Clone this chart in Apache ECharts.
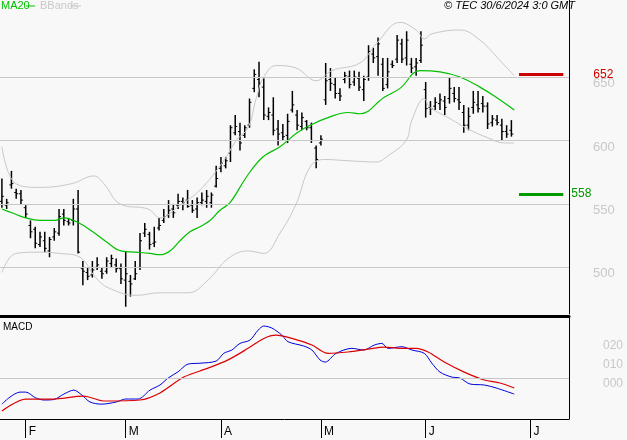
<!DOCTYPE html>
<html><head><meta charset="utf-8">
<script src="https://cdn.jsdelivr.net/npm/echarts@6/dist/echarts.min.js"></script>
<style>html,body{margin:0;padding:0;background:#f8f8f8}#c{width:627px;height:440px}</style>
</head><body><div id="c"></div>
<script>
const high=[570,554,576,562,561,549,537,532,528,528,524,531,546,546,539,554,561,505,500,505,508,500,508,510,507,503,513,494,505,527,535,528,532,539,546,553,550,558,555,561,553,555,559,561,559,580,587,587,612,620,614,612,633,656,662,649,626,634,616,613,621,639,624,622,616,614,596,604,661,657,650,641,654,655,655,654,651,675,673,681,665,665,663,683,680,686,665,665,686,646,631,634,637,635,650,642,642,628,626,639,639,635,630,620,620,617,612,616];
const low=[547,546,562,554,550,539,523,515,516,512,508,521,525,533,533,533,511,486,490,492,498,491,495,500,496,487,469,477,490,498,524,514,516,529,535,539,539,546,545,547,543,539,549,547,547,563,575,578,583,604,592,602,610,638,634,616,616,604,596,600,598,622,608,608,608,598,578,596,628,639,633,631,645,641,643,639,631,647,661,651,639,641,657,661,661,659,653,651,661,618,620,624,624,620,629,630,624,606,608,621,622,622,609,611,612,600,602,603];
const open=[552,549,565,559,558,547,533,530,518,521,513,524,527,542,536,537,546,499,496,494,500,497,497,503,502,499,490,489,491,500,527,526,519,531,537,541,546,549,552,553,549,546,551,552,551,564,578,580,590,606,607,604,612,641,648,642,619,620,609,606,604,624,620,611,615,610,594,598,632,648,644,637,648,650,646,649,640,650,668,666,660,644,660,664,676,665,660,658,663,640,626,627,629,631,633,637,632,622,612,626,628,629,627,614,616,612,607,608];
const close=[556,551,566,558,553,542,528,519,524,515,522,528,540,537,535,546,512,497,493,498,502,495,505,507,499,491,495,487,495,521,530,518,520,533,540,545,543,552,551,548,545,551,553,556,557,570,582,584,610,611,598,610,630,652,645,620,622,608,605,603,615,628,612,618,610,600,585,601,647,645,637,635,651,644,650,642,648,670,665,676,641,654,659,679,664,679,657,661,675,625,625,630,632,626,641,633,630,612,619,630,625,627,613,617,614,607,605,605];
const ma20=[[0,546],[2.1,543],[5,539],[8,537],[11.1,537],[13,539],[16.2,535],[19.1,528],[22,520],[25,513],[28.2,512],[31.1,511],[33.2,510],[35.3,513],[37.4,521],[39.5,528],[41.6,532],[43.7,537],[45.8,545],[47.9,551],[51.5,572],[54.8,587],[58.4,595],[62,606],[65.3,613],[68.5,618],[72.7,622],[75.2,621],[80.3,634],[83.6,641],[87.8,655],[92,654],[96.2,650],[100.4,642],[103.8,634],[107.6,624]];
const bbUp=[[0,595],[2.9,566],[8,563],[14.7,566],[19.3,572],[21.4,566],[24.8,550],[30.7,546],[33.2,539],[37.4,549],[41.6,561],[46.6,584],[49.2,600],[51.7,610],[53.4,633],[55,650],[57.6,659],[61.8,657],[66,647],[69.3,655],[75.2,661],[78.6,676],[83.6,693],[87,687],[88.7,680],[90.3,684],[96.2,687],[100.4,679],[104.6,663],[107.6,651]];
const bbLow=[[0,496],[2.9,511],[8,512],[12.2,511],[16.4,508],[19.7,492],[22.3,484],[28.2,478],[33.2,480],[39.1,480],[43.3,490],[47.5,507],[51.7,513],[55,511],[58.4,527],[61.8,550],[64.7,579],[67.6,585],[72.7,584],[78.6,583],[81.1,588],[84.9,600],[86.1,616],[88.7,633],[89.9,626],[93.7,618],[97.9,609],[102.1,602],[105.5,598],[107.6,598]];
const macd=[[0,-15.8],[1.7,-11.5],[3.8,-8.5],[5,-8.5],[7.1,-12],[8.8,-13.3],[10.9,-13],[13,-9.7],[15.1,-7.3],[16.8,-10.3],[18.5,-14.5],[21,-15.8],[24,-14.5],[26,-12.7],[28.6,-12.7],[31.1,-7.3],[33.2,-4.2],[34.9,0],[37,3.8],[39.1,8.5],[41.6,9],[45,10.3],[46.6,15],[48.3,17],[50,21],[52.1,23],[53.8,29],[55,31.5],[56.7,30.3],[58.8,26],[60.1,22],[63.4,19.4],[65.1,17],[66.8,11],[67.9,9.7],[70.2,15],[73.5,18],[76,17],[78.2,20],[79.8,21],[81.1,18],[84,19],[86.1,17],[88.7,15],[90.3,9],[92,3.6],[94.5,0.6],[96.2,0],[98.3,-3.6],[101.3,-4.2],[103.8,-6],[107.6,-9.7]];
const signal=[[0,-20],[5,-12.7],[10.5,-12.7],[17.2,-10.9],[21.4,-13.9],[29,-13.3],[33.2,-9],[38.2,0.6],[43.3,6],[47.5,11],[51.7,18],[55,24],[57.6,26],[60.9,24],[65.1,20],[68.5,15],[72.7,15.8],[76.9,17.5],[80.3,18.8],[83.6,18],[87,18],[89.5,15.8],[92.9,9.7],[97.1,3.6],[101.3,-1.2],[104.6,-3],[107.6,-6]];
const monthTicks=[5,26,46,67,89,111];
const monthLabels=['F','M','A','M','J','J'];
const priceTicks=[500,550,600,650];
const macdTicks=[0,11.5,23];
const macdLabels=['000','010','020'];
const support=558, resistance=652;

const ohlc=high.map((h,i)=>[i,open[i],high[i],low[i],close[i]]);
const chart=echarts.init(document.getElementById('c'));
const gray='#c8c8c8';
chart.setOption({
  backgroundColor:'#f8f8f8',animation:false,
  textStyle:{fontFamily:'Liberation Sans, Arial'},
  grid:[{left:0,top:0,width:569,height:314},{left:0,top:316,width:569,height:103}],
  xAxis:[
    {type:'value',gridIndex:0,min:-0.4,max:119.1,show:false},
    {type:'value',gridIndex:1,position:'bottom',min:-0.4,max:119.1,splitLine:{show:false},
      axisLine:{onZero:false,lineStyle:{color:'#000'}},
      axisTick:{customValues:monthTicks,length:19,inside:false,lineStyle:{color:'#000'}},
      axisLabel:{customValues:monthTicks,formatter:v=>monthLabels[monthTicks.indexOf(v)],align:'left',padding:[0,0,0,3],margin:7,color:'#000',fontSize:12}},
    {type:'value',gridIndex:1,position:'top',min:-0.4,max:119.1,axisLine:{show:true,onZero:false,lineStyle:{color:'#000',width:3}},axisTick:{show:false},axisLabel:{show:false},splitLine:{show:false}}
  ],
  yAxis:[
    {type:'value',gridIndex:0,position:'right',min:463.3,max:710.6,splitLine:{show:false},
      axisLine:{show:true,onZero:false,lineStyle:{color:'#000'}},axisTick:{show:false},
      axisLabel:{customValues:priceTicks,align:'left',margin:24,verticalAlign:'top',color:gray,fontSize:13}},
    {type:'value',gridIndex:1,position:'right',min:-24.8,max:37.6,splitLine:{show:false},
      axisLine:{show:true,onZero:false,lineStyle:{color:'#000'}},axisTick:{show:false},
      axisLabel:{customValues:macdTicks,formatter:v=>macdLabels[macdTicks.indexOf(v)],align:'left',margin:34,verticalAlign:'top',color:gray,fontSize:12}}
  ],
  series:[
    {type:'line',xAxisIndex:0,yAxisIndex:0,data:bbUp,smooth:0.4,symbol:'none',lineStyle:{color:gray,width:1},
      markLine:{silent:true,symbol:'none',label:{show:false},lineStyle:{color:gray,width:1,type:'solid'},data:priceTicks.map(v=>({yAxis:v}))}},
    {type:'line',xAxisIndex:0,yAxisIndex:0,data:bbLow,smooth:0.4,symbol:'none',lineStyle:{color:gray,width:1}},
    {type:'line',xAxisIndex:0,yAxisIndex:0,data:ma20,smooth:0.4,symbol:'none',lineStyle:{color:'#00c000',width:1.2},
      markLine:{silent:true,symbol:'none',data:[
        [{coord:[108.6,resistance],lineStyle:{color:'#cc0000',width:3,type:'solid'},label:{show:true,position:'end',formatter:String(resistance),color:'#cc0000',fontSize:12,distance:30}},{coord:[117.9,resistance]}],
        [{coord:[108.6,support],lineStyle:{color:'#009900',width:3,type:'solid'},label:{show:true,position:'end',formatter:String(support),color:'#009900',fontSize:12,distance:8}},{coord:[117.9,support]}]
      ]}},
    {type:'custom',xAxisIndex:0,yAxisIndex:0,data:ohlc,encode:{x:0,y:[1,2,3,4]},
      renderItem:(params,api)=>{
        const x=api.value(0);
        const o=api.coord([x,api.value(1)]),h=api.coord([x,api.value(2)]),l=api.coord([x,api.value(3)]),c=api.coord([x,api.value(4)]);
        const st={stroke:'#000',lineWidth:1.5};
        return {type:'group',children:[
          {type:'line',shape:{x1:h[0],y1:h[1],x2:l[0],y2:l[1]},style:st},
          {type:'line',shape:{x1:o[0]-2,y1:o[1],x2:o[0],y2:o[1]},style:{stroke:'#000',lineWidth:1}},
          {type:'line',shape:{x1:c[0],y1:c[1],x2:c[0]+2,y2:c[1]},style:{stroke:'#000',lineWidth:1}}
        ]};
      }},
    {type:'line',xAxisIndex:1,yAxisIndex:1,data:macd,smooth:0.3,symbol:'none',lineStyle:{color:'#0000dd',width:1},
      markLine:{silent:true,symbol:'none',label:{show:false},lineStyle:{color:gray,width:1,type:'solid'},data:[{yAxis:0}]}},
    {type:'line',xAxisIndex:1,yAxisIndex:1,data:signal,smooth:0.3,symbol:'none',lineStyle:{color:'#dd0000',width:1.2}}
  ],
  graphic:[
    {type:'text',left:1,top:0,style:{text:'MA20',fill:'#00c000',font:'11px Liberation Sans'}},
    {type:'line',shape:{x1:26,y1:6,x2:35,y2:6},style:{stroke:'#00c000',lineWidth:1}},
    {type:'text',left:40,top:0,style:{text:'BBands',fill:gray,font:'11px Liberation Sans'}},
    {type:'line',shape:{x1:70,y1:6,x2:81,y2:6},style:{stroke:gray,lineWidth:1}},
    {type:'text',right:52,top:0,style:{text:'© TEC 30/6/2024 3:0 GMT',fill:'#000',font:'italic 11px Liberation Sans'}},
    {type:'text',left:3,top:322,style:{text:'MACD',fill:'#000',font:'10px Liberation Sans'}}
  ]
});
</script></body></html>
